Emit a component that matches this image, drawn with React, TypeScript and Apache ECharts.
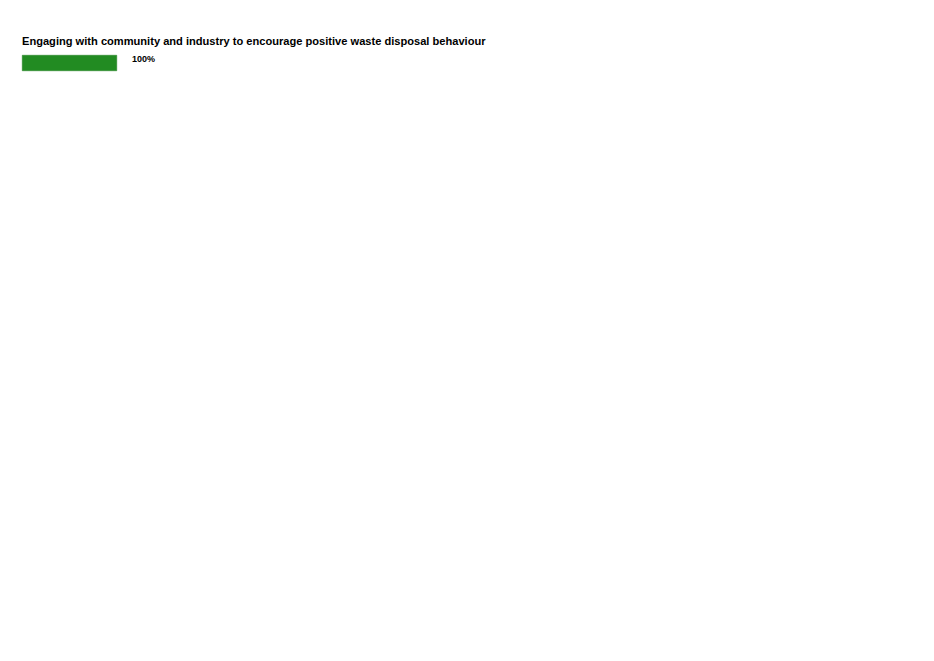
import React, { useEffect, useRef } from 'react';
import * as echarts from 'echarts';

const categories = ['Engaging with community and industry'];
const values = [100];
const titleText = 'Engaging with community and industry to encourage positive waste disposal behaviour';

export default function App() {
  const ref = useRef<HTMLDivElement>(null);

  useEffect(() => {
    if (!ref.current) return;
    const chart = echarts.init(ref.current, undefined, { renderer: 'svg' });
    chart.setOption({
      animation: false,
      backgroundColor: '#ffffff',
      title: {
        text: titleText,
        left: 14,
        top: 27,
        padding: 0,
        textStyle: {
          fontFamily: 'Liberation Sans, Arial, sans-serif',
          fontSize: 11.1,
          fontWeight: 'bold',
          color: '#000000',
        },
      },
      grid: { left: 14, top: 47, width: 95, height: 16 },
      xAxis: { type: 'value', min: 0, max: 100, show: false },
      yAxis: { type: 'category', data: categories, show: false },
      series: [
        {
          type: 'bar',
          data: values,
          barWidth: 16,
          itemStyle: { color: '#228b22', borderColor: '#1f7f1f', borderWidth: 0.5 },
          label: {
            show: true,
            position: 'right',
            distance: 15,
            offset: [0, -4],
            formatter: '{c}%',
            fontFamily: 'Liberation Sans, Arial, sans-serif',
            fontSize: 9,
            fontWeight: 'bold',
            color: '#000000',
          },
        },
      ],
    });
    return () => chart.dispose();
  }, []);

  return <div ref={ref} style={{ width: 918, height: 645 }} />;
}
